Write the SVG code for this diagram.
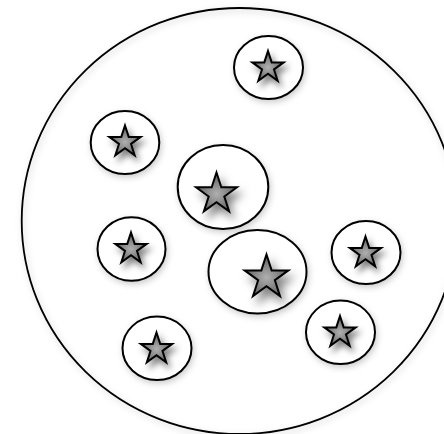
<svg xmlns="http://www.w3.org/2000/svg" width="444" height="434" viewBox="0 0 444 434">
<defs>
<style>
.ring{fill:#fff;stroke:#000;stroke-width:2;filter:url(#sh)}
.star{fill:url(#sg);stroke:#000;stroke-width:2;filter:url(#sh2)}
</style>
<radialGradient id="sg" cx="0.5" cy="0.55" r="0.55">
<stop offset="0" stop-color="#b0b0b0"/>
<stop offset="1" stop-color="#5a5a5a"/>
</radialGradient>
<filter id="sh" x="-20%" y="-20%" width="150%" height="150%">
<feDropShadow dx="1.5" dy="2.5" stdDeviation="3" flood-color="#000" flood-opacity="0.2"/>
</filter>
<filter id="sh2" x="-30%" y="-30%" width="170%" height="170%">
<feDropShadow dx="2" dy="3" stdDeviation="2" flood-color="#000" flood-opacity="0.5"/>
</filter>
<path id="st" d="M0,-10 L2.245,-3.09 L9.511,-3.09 L3.633,1.18 L5.878,8.09 L0,3.82 L-5.878,8.09 L-3.633,1.18 L-9.511,-3.09 L-2.245,-3.09 Z" vector-effect="non-scaling-stroke"/>
</defs>
<rect width="444" height="434" fill="#fff"/>
<g id="outer"><ellipse cx="239.5" cy="221" rx="217.8" ry="213" fill="none" stroke="#000" stroke-width="1.8" filter="url(#sh)"/></g>
<g id="n1"><ellipse class="ring" cx="268.5" cy="67.5" rx="34.5" ry="31.5"/><use href="#st" class="star" transform="translate(268,67.5) scale(1.65)"/></g>
<g id="n2"><ellipse class="ring" cx="125" cy="142.5" rx="34.3" ry="31.5"/><use href="#st" class="star" transform="translate(125,142) scale(1.65)"/></g>
<g id="n3"><ellipse class="ring" cx="223" cy="187" rx="45.3" ry="42"/><use href="#st" class="star" transform="translate(216.5,194) scale(2.15)"/></g>
<g id="n4"><ellipse class="ring" cx="131.5" cy="249" rx="34" ry="31.7"/><use href="#st" class="star" transform="translate(131,249) scale(1.65)"/></g>
<g id="n5"><ellipse class="ring" cx="257.5" cy="271.7" rx="49" ry="41.7"/><use href="#st" class="star" transform="translate(266.5,277.5) scale(2.3)"/></g>
<g id="n6"><ellipse class="ring" cx="366" cy="252.5" rx="34.5" ry="31.5"/><use href="#st" class="star" transform="translate(365.5,253) scale(1.65)"/></g>
<g id="n7"><ellipse class="ring" cx="340.5" cy="332.3" rx="34.5" ry="31.7"/><use href="#st" class="star" transform="translate(340,332.5) scale(1.65)"/></g>
<g id="n8"><ellipse class="ring" cx="157" cy="348.3" rx="34.5" ry="31.7"/><use href="#st" class="star" transform="translate(156.5,349) scale(1.65)"/></g>
<g id="connectors"></g>
</svg>
